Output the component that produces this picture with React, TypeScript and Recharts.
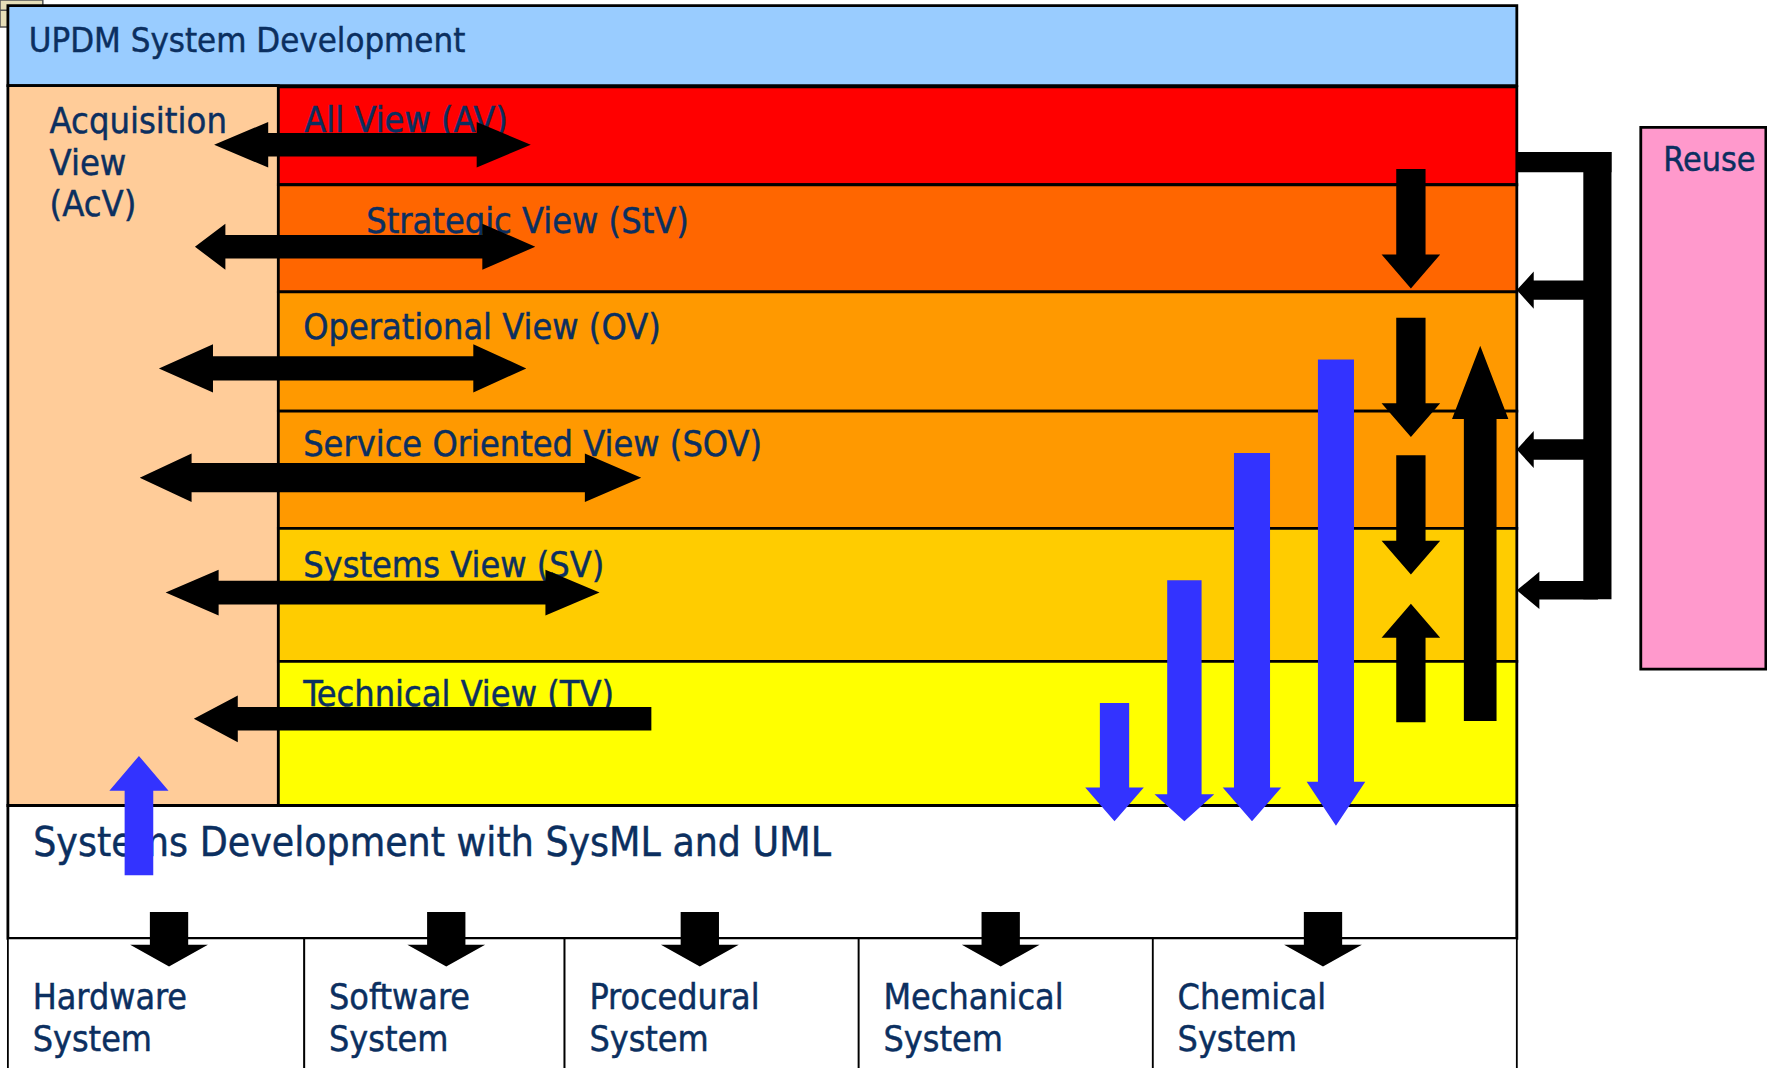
import { ComposedChart, XAxis, YAxis, ReferenceArea, Scatter } from 'recharts'

// canvas in px and the diagram's own units
const W = 1767
const H = 1068
const X_MAX = 1568
const Y_MAX = 948

const FONT = '"DejaVu Sans Condensed", "DejaVu Sans", sans-serif'
const INK = '#0b2f60'
const LINE_GAP = 41.7

// views of the UPDM stack
const viewNames = [
  'All View (AV)',
  'Strategic View (StV)',
  'Operational View (OV)',
  'Service Oriented View (SOV)',
  'Systems View (SV)',
  'Technical View (TV)',
]
const viewTops = [77, 164, 259, 365, 469, 587]
const viewBottoms = [164, 259, 365, 469, 587, 715]
const viewLabelX = [270, 325, 269, 269, 269, 269]
const viewLabelY = [117, 207, 301, 405, 512, 627]
const viewFills = ['#FF0000', '#FF6600', '#FF9900', '#FF9900', '#FFCC00', '#FFFF00']

// target systems along the bottom
const systemNames = [
  ['Hardware', 'System'],
  ['Software', 'System'],
  ['Procedural', 'System'],
  ['Mechanical', 'System'],
  ['Chemical', 'System'],
]
const systemEdges = [7, 270, 501, 762, 1023, 1346]
const systemArrowX = [150, 396, 621, 888, 1174]

type Arrow = {
  axis: 'h' | 'v'
  from: number
  to: number
  at: number
  shaft: number
  head: number
  tailHead: number
  tipHead: number
}

// AcV <-> view links (left/right tips, row centre)
const acvLinks: Arrow[] = [
  { axis: 'h', from: 190, to: 471, at: 128.5, shaft: 21, head: 40.5, tailHead: 48, tipHead: 48 },
  { axis: 'h', from: 173, to: 475, at: 219, shaft: 21, head: 41, tailHead: 27, tipHead: 47 },
  { axis: 'h', from: 141, to: 467, at: 327, shaft: 21.5, head: 43, tailHead: 48, tipHead: 47 },
  { axis: 'h', from: 124, to: 569, at: 424, shaft: 26, head: 43, tailHead: 46, tipHead: 50 },
  { axis: 'h', from: 147, to: 532, at: 526, shaft: 21, head: 40.5, tailHead: 47, tipHead: 48 },
  { axis: 'h', from: 578, to: 172, at: 638, shaft: 21, head: 41.5, tailHead: 0, tipHead: 39 },
]

// flow between views on the right
const viewFlows: Arrow[] = [
  { axis: 'v', from: 150, to: 256, at: 1252, shaft: 26, head: 52, tailHead: 0, tipHead: 30 },
  { axis: 'v', from: 282, to: 388, at: 1252, shaft: 26, head: 52, tailHead: 0, tipHead: 30 },
  { axis: 'v', from: 404, to: 510, at: 1252, shaft: 26, head: 52, tailHead: 0, tipHead: 30 },
  { axis: 'v', from: 641, to: 536, at: 1252, shaft: 26, head: 52, tailHead: 0, tipHead: 30 },
  { axis: 'v', from: 640, to: 307, at: 1313.5, shaft: 29, head: 50, tailHead: 0, tipHead: 65 },
]

// views feeding systems development
const devFlows: Arrow[] = [
  { axis: 'v', from: 624, to: 729, at: 989, shaft: 26, head: 52, tailHead: 0, tipHead: 30 },
  { axis: 'v', from: 515, to: 729, at: 1051, shaft: 30.5, head: 53, tailHead: 0, tipHead: 24 },
  { axis: 'v', from: 402, to: 729, at: 1111, shaft: 32, head: 52, tailHead: 0, tipHead: 30 },
  { axis: 'v', from: 319, to: 733, at: 1185.5, shaft: 32, head: 52, tailHead: 0, tipHead: 39 },
  { axis: 'v', from: 777, to: 671, at: 123.3, shaft: 25.4, head: 52.5, tailHead: 0, tipHead: 31 },
]

// reuse feedback branches
const reuseBranchY = [257.5, 399, 524]
const reuseBranchShaft = [17, 18, 16.5]
const reuseBranchHead = [15, 15, 20]

function arrowPoints(a: Arrow): [number, number][] {
  const dir = a.to >= a.from ? 1 : -1
  const L = Math.abs(a.to - a.from)
  const s = a.shaft / 2
  const b = a.head / 2
  const pts: [number, number][] = []
  if (a.tailHead > 0) {
    pts.push([0, 0], [a.tailHead, -b], [a.tailHead, -s])
  } else {
    pts.push([0, -s])
  }
  pts.push([L - a.tipHead, -s], [L - a.tipHead, -b], [L, 0], [L - a.tipHead, b], [L - a.tipHead, s])
  if (a.tailHead > 0) {
    pts.push([a.tailHead, s], [a.tailHead, b])
  } else {
    pts.push([0, s])
  }
  return pts.map(([u, t]) => {
    const along = a.from + dir * u
    const across = a.at + t
    return a.axis === 'h' ? [along, across] : [across, along]
  })
}

function arrowArea(a: Arrow, fill: string, key: string) {
  const pts = arrowPoints(a)
  const xs = pts.map(p => p[0])
  const ys = pts.map(p => p[1])
  const x1 = Math.min(...xs)
  const x2 = Math.max(...xs)
  const y1 = Math.min(...ys)
  const y2 = Math.max(...ys)
  const shape = (p: any) => {
    const d = pts
      .map(([x, y]) => {
        const px = p.x + ((x - x1) / (x2 - x1)) * p.width
        const py = p.y + ((y - y1) / (y2 - y1)) * p.height
        return `${px},${py}`
      })
      .join(' ')
    return <polygon points={d} fill={fill} />
  }
  return (
    <ReferenceArea
      key={key}
      x1={x1}
      x2={x2}
      y1={y1}
      y2={y2}
      ifOverflow="visible"
      zIndex={900}
      shape={shape}
    />
  )
}

function box(key: string, x1: number, x2: number, y1: number, y2: number, fill: string, sw = 2.8, stroke = '#000') {
  return (
    <ReferenceArea
      key={key}
      x1={x1}
      x2={x2}
      y1={y1}
      y2={y2}
      fill={fill}
      fillOpacity={1}
      stroke={stroke}
      strokeWidth={sw}
      ifOverflow="visible"
      zIndex={100}
    />
  )
}

type Label = { x: number; y: number; lines: string[]; size: number }

const labels: Label[] = [
  { x: 25.5, y: 45.8, lines: ['UPDM System Development'], size: 34.5 },
  { x: 44, y: 118, lines: ['Acquisition', 'View', '(AcV)'], size: 36 },
  ...viewNames.map((n, i) => ({ x: viewLabelX[i], y: viewLabelY[i], lines: [n], size: 35.8 })),
  { x: 29.5, y: 760, lines: ['Systems Development with SysML and UML'], size: 40.5 },
  ...systemNames.map((n, i) => ({ x: systemEdges[i] + 22, y: 896, lines: n, size: 35.6 })),
  { x: 1476, y: 152, lines: ['Reuse'], size: 33.8 },
]

const renderLabel = (p: any) => {
  const l: Label = p.payload
  return (
    <text
      x={p.cx}
      y={p.cy}
      fill={INK}
      stroke={INK}
      strokeWidth={0.45}
      fontFamily={FONT}
      fontSize={l.size}
    >
      {l.lines.map((t, i) => (
        <tspan key={i} x={p.cx} dy={i === 0 ? 0 : LINE_GAP}>
          {t}
        </tspan>
      ))}
    </text>
  )
}

export default function App() {
  const sysArrows: Arrow[] = systemArrowX.map(x => ({
    axis: 'v',
    from: 809.5,
    to: 858,
    at: x,
    shaft: 34,
    head: 69,
    tailHead: 0,
    tipHead: 19.5,
  }))
  const reuseArrows: Arrow[] = reuseBranchY.map((y, i) => ({
    axis: 'h',
    from: 1418,
    to: 1346,
    at: y,
    shaft: reuseBranchShaft[i],
    head: 33,
    tailHead: 0,
    tipHead: reuseBranchHead[i],
  }))

  return (
    <div style={{ position: 'absolute', left: 0, top: 0, width: W, height: H, background: '#fff' }}>
      <ComposedChart width={W} height={H} margin={{ top: 0, right: 0, bottom: 0, left: 0 }}>
        <XAxis type="number" dataKey="x" domain={[0, X_MAX]} allowDataOverflow hide height={0} />
        <YAxis type="number" dataKey="y" domain={[0, Y_MAX]} allowDataOverflow reversed hide width={0} />

        {box('corner-a', 0, 10, 9, 24, '#E6DEB8', 1.5, '#555')}
        {box('corner-b', 0, 38, 0, 9, '#E6DEB8', 1.5, '#555')}
        {box('title', 7, 1346, 5, 76, '#99CCFF')}
        {box('acv', 7, 247, 76, 715, '#FFCC99')}
        {viewNames.map((n, i) => box(`view-${i}`, 247, 1346, viewTops[i], viewBottoms[i], viewFills[i]))}
        {box('dev', 7, 1346, 715, 833, '#FFFFFF')}
        {systemNames.map((n, i) =>
          box(`sys-${i}`, systemEdges[i], systemEdges[i + 1], 833, 960, '#FFFFFF', 1.8),
        )}
        {box('reuse', 1456, 1567, 113, 594, '#FF99CC')}

        <Scatter
          data={labels}
          shape={renderLabel}
          isAnimationActive={false}
          zIndex={600}
        />

        {acvLinks.map((a, i) => arrowArea(a, '#000', `acv-${i}`))}
        {viewFlows.map((a, i) => arrowArea(a, '#000', `flow-${i}`))}
        {devFlows.map((a, i) => arrowArea(a, '#3333FF', `dev-${i}`))}
        {sysArrows.map((a, i) => arrowArea(a, '#000', `sys-arrow-${i}`))}

        <ReferenceArea x1={1346} x2={1430} y1={135} y2={153} fill="#000" fillOpacity={1} ifOverflow="visible" zIndex={900} />
        <ReferenceArea x1={1405} x2={1430} y1={135} y2={532} fill="#000" fillOpacity={1} ifOverflow="visible" zIndex={900} />
        {reuseArrows.map((a, i) => arrowArea(a, '#000', `reuse-${i}`))}
      </ComposedChart>
    </div>
  )
}
